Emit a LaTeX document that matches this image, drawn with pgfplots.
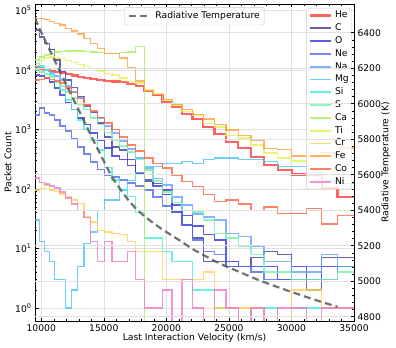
\documentclass[border=0pt]{standalone}
\usepackage{pgfplots}
\pgfplotsset{compat=1.18}
\usepackage{pgfplotstable}
\usepackage{fontspec}
\setmainfont{DejaVu Sans}
\setsansfont{DejaVu Sans}

\definecolor{cHe}{HTML}{FF3B3B}
\definecolor{cC}{HTML}{3D3D9E}
\definecolor{cO}{HTML}{3333DD}
\definecolor{cNe}{HTML}{5566EE}
\definecolor{cNa}{HTML}{66A0FF}
\definecolor{cMg}{HTML}{44C4F4}
\definecolor{cSi}{HTML}{44EEE0}
\definecolor{cS}{HTML}{77F0B0}
\definecolor{cCa}{HTML}{A6F060}
\definecolor{cTi}{HTML}{E2F055}
\definecolor{cCr}{HTML}{FFD24D}
\definecolor{cFe}{HTML}{FFA040}
\definecolor{cCo}{HTML}{FF6440}
\definecolor{cNi}{HTML}{F07AC8}

\pgfplotstableread{
v He C O Ne Na Mg Si S Ca Ti Cr Fe Co Ni
9500 10700 47000 8200 1750 11600 30 13000 10000 14700 12000 96 74000 6800 153
9871 10400 36000 7900 2300 11000 13 11600 9200 16500 14500 103 73000 7000 130
10257 10000 28000 7300 1900 10000 9 10000 8600 18000 16000 117 70000 7300 121
10659 9600 22000 6300 1750 8900 6 8200 7600 19000 16500 96 66000 7000 112
11075 9200 14700 5000 1450 7900 3 6300 6600 20000 16000 90 61000 6500 104
11508 8900 9400 3800 1150 6800 3 4600 5400 20500 15500 82 57000 6000 89
11958 8600 6800 2800 950 5400 1 3150 4300 21000 14500 74 50000 5000 71
12426 8100 5100 2150 690 4300 2 2150 3400 21000 13500 65 45000 4200 56
12912 7600 3600 1550 510 3400 5 1450 2700 21000 12500 57 40000 3300 44
13417 7300 2500 1200 390 2700 12 1000 2150 20500 11500 34 34000 2600 33
13941 7000 1950 870 285 2000 19 670 1550 20000 10500 28 28000 2050 13
14486 6800 1280 670 215 1550 44 455 1200 19500 9600 20 23000 1600 6
15053 6500 750 490 170 1150 65 230 900 19000 8800 19 19000 1280 13
15641 6400 510 360 160 870 65 142 670 19000 8200 18 19000 1000 6
16253 6200 455 310 142 640 96 96 530 19500 7300 17 16000 750 6
16888 5800 310 250 126 470 140 75 420 20000 6400 13 11000 550 9
17549 5400 185 190 112 330 190 40 310 25000 6000 9 6500 435 3
18235 4500 133 142 96 225 237 15 210 0.01 4600 9 4500 330 1
18948 3800 125 112 73 150 237 15 136 0.01 4000 9 3900 270 1
19689 2900 96 80 52 117 270 9 89 0.01 3100 3 3200 225 2
20458 2400 41 54 40 73 270 6 60 0.01 2600 3 2700 172 0.01
21258 1800 25 36 25 54 290 6 44 0.01 2000 3 2150 133 3
22090 1480 15 24 14 38 270 2 41 0.01 1700 3 1800 110 1
22953 1100 6 17 9 34 310 2 30 0.01 1260 4 1500 80 0.01
23851 840 6 14 8 30 330 1 18 0.01 1100 1 1200 61 2
24783 620 5 6 5 18 330 1 15 0.01 800 1 985 65 1
25752 485 5 5 5 16 310 0.01 11 0.01 720 1 800 56 0.01
26759 350 7 5 4 11 315 1 8 0.01 550 1 650 44 1
27805 250 9 5 3 6 290 1 4 0.01 400 0.01 480 50 0.01
28893 210 8 3 3 6 240 0.01 4 0.01 330 0.01 460 39 1
30022 175 5 3 5 4 240 1 3 0.01 295 2 360 39 1
31196 172 2 3 5 4 190 1 3 0.01 250 2 340 47 0.01
32416 103 7 5 3 8 140 1 3 0.01 190 1 400 26 1
33683 74 7 5 5 5 125 1 4 0.01 140 1 490 36 1
35000 74 7 5 5 5 125 1 4 0.01 140 1 490 36 1
}\data

\pgfplotstableread{
v T
9500 6481
9871 6421
10257 6364
10659 6305
11075 6243
11508 6180
11958 6114
12426 6046
12912 5976
13417 5903
13941 5826
14486 5748
15053 5669
15641 5587
16253 5525
16888 5463
17549 5410
18235 5367
18948 5328
19689 5291
20458 5257
21258 5221
22090 5181
22953 5148
23851 5114
24783 5083
25752 5055
26759 5024
27805 4995
28893 4967
30022 4939
31196 4911
32416 4883
33683 4856
}\tdata

\begin{document}
\begin{tikzpicture}[font=\fontsize{9.2bp}{11bp}\selectfont]
\useasboundingbox (0,0) rectangle (396bp,348bp);
\pgfplotsset{
  base/.style={
    at={(35bp,27bp)}, anchor=south west, scale only axis,
    width=319bp, height=317bp, xmin=9500, xmax=35000,
    scaled x ticks=false, scaled y ticks=false,
    tick align=inside, major tick length=3.5bp, minor tick length=2bp,
    every tick/.style={black, line width=0.5bp},
    axis line style={line width=0.8bp},
    legend image code/.code={\draw[##1, line width=1.8bp] (0bp,0bp) -- (21bp,0bp);},
  },
  el/.style={const plot, line width=1.4bp, draw opacity=0.8, color=#1},
  heleg/.style={legend image code/.code={\draw[##1, line width=2.4bp] (0bp,0bp) -- (21bp,0bp);}},
  tleg/.style={legend image code/.code={\draw[##1] (0bp,0bp) -- (21bp,0bp);}},
}
\begin{axis}[base,
  ymode=log, ymin=0.605, ymax=1.286e5,
  xtick={10000,15000,20000,25000,30000,35000},
  xticklabels={10000,15000,20000,25000,30000,35000},
  minor x tick num=4,
  ytick={1,10,100,1000,10000,100000},
  yticklabels={10\textsuperscript{0},10\textsuperscript{1},10\textsuperscript{2},10\textsuperscript{3},10\textsuperscript{4},10\textsuperscript{5}},
  ytick pos=left,
  grid=major, major grid style={black!12, line width=0.6bp},
  xlabel={Last Interaction Velocity (km/s)},
  ylabel={Packet Count},
  xlabel style={at={(axis description cs:0.5,-0.0546)}, anchor=center},
  ylabel style={at={(axis description cs:-0.085,0.5)}, anchor=center},
  legend cell align=left,
  legend style={at={(0.9937,0.9874)}, anchor=north east,
    draw=black!20, rounded corners=2.5bp, fill=white, fill opacity=0.8,
    draw opacity=1, text opacity=1, inner xsep=2bp, inner ysep=2bp,
    font=\fontsize{9.2bp}{11bp}\selectfont,
    nodes={inner sep=1bp, text height=6.7bp, text depth=1.9bp},
    /tikz/row sep=2.2bp, /tikz/column sep=2bp},
]
\addplot[el=cHe, line width=2.2bp, heleg] table[x=v,y=He]{\data}; \addlegendentry{He}
\addplot[el=cC] table[x=v,y=C]{\data}; \addlegendentry{C}
\addplot[el=cO] table[x=v,y=O]{\data}; \addlegendentry{O}
\addplot[el=cNe] table[x=v,y=Ne]{\data}; \addlegendentry{Ne}
\addplot[el=cNa] table[x=v,y=Na]{\data}; \addlegendentry{Na}
\addplot[el=cMg] table[x=v,y=Mg]{\data}; \addlegendentry{Mg}
\addplot[el=cSi] table[x=v,y=Si]{\data}; \addlegendentry{Si}
\addplot[el=cS] table[x=v,y=S]{\data}; \addlegendentry{S}
\addplot[el=cCa] table[x=v,y=Ca]{\data}; \addlegendentry{Ca}
\addplot[el=cTi] table[x=v,y=Ti]{\data}; \addlegendentry{Ti}
\addplot[el=cCr] table[x=v,y=Cr]{\data}; \addlegendentry{Cr}
\addplot[el=cFe] table[x=v,y=Fe]{\data}; \addlegendentry{Fe}
\addplot[el=cCo] table[x=v,y=Co]{\data}; \addlegendentry{Co}
\addplot[el=cNi] table[x=v,y=Ni]{\data}; \addlegendentry{Ni}
\end{axis}
\begin{axis}[base, tleg,
  axis y line*=right, axis x line=none,
  ymin=4775.8, ymax=6561.7,
  ytick={4800,5000,5200,5400,5600,5800,6000,6200,6400},
  yticklabels={4800,5000,5200,5400,5600,5800,6000,6200,6400},
  minor y tick num=4,
  ymajorgrids, major grid style={black!12, line width=0.6bp},
  ylabel={Radiative Temperature (K)},
  ylabel style={at={(axis description cs:1.1,0.5)}, anchor=center, rotate=0},
  legend style={at={(0.5,0.99)}, anchor=north,
    draw=black!20, rounded corners=2.5bp, fill=white, fill opacity=0.8,
    draw opacity=1, text opacity=1, inner xsep=3.5bp, inner ysep=3bp,
    font=\fontsize{9.2bp}{11bp}\selectfont,
    nodes={inner sep=1.5bp, text height=6.7bp, text depth=1.9bp},
    /tikz/column sep=3bp},
]
\addplot[color=black!65, line width=2.2bp, dash pattern=on 7bp off 4bp, draw opacity=0.85] table[x=v,y=T]{\tdata};
\addlegendentry{Radiative Temperature}
\end{axis}
\end{tikzpicture}
\end{document}
